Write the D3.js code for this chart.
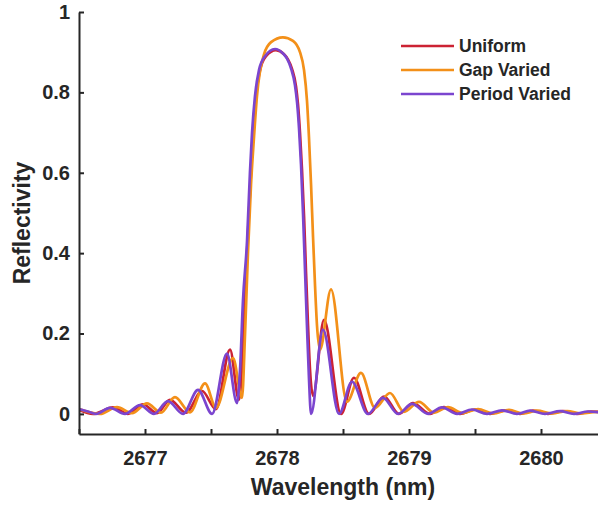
<!DOCTYPE html>
<html lang="en">
<head>
    <meta charset="UTF-8">
    <title>Reflectivity spectrum</title>
    <script src="https://d3js.org/d3.v7.min.js"></script>
    <style>
        body { margin: 0; background: #fff; }
        text { font-family: "Liberation Sans", Arial, sans-serif; font-weight: bold; fill: #262626; }
        .axis path, .axis line { stroke: #262626; stroke-width: 2px; }
        .series { fill: none; stroke-width: 2.7px; stroke-linejoin: round; }
    </style>
</head>
<body>
    <svg width="598" height="505"></svg>

    <script>
        // [wavelength (nm), reflectivity]
        const uniform = [
            [2676.500, 0.010], [2676.606, 0.000], [2676.758, 0.016], [2676.871, 0.000],
            [2676.985, 0.024], [2677.091, 0.002], [2677.189, 0.035], [2677.311, 0.003],
            [2677.432, 0.057], [2677.538, 0.012], [2677.644, 0.160], [2677.712, 0.035],
            [2677.735, 0.120], [2677.758, 0.300], [2677.780, 0.450], [2677.803, 0.600],
            [2677.818, 0.700], [2677.841, 0.790], [2677.871, 0.855], [2677.917, 0.890],
            [2677.992, 0.905], [2678.053, 0.895], [2678.083, 0.882], [2678.114, 0.858],
            [2678.144, 0.815], [2678.159, 0.770], [2678.174, 0.700], [2678.189, 0.610],
            [2678.205, 0.490], [2678.220, 0.350], [2678.235, 0.220], [2678.250, 0.110],
            [2678.273, 0.045], [2678.356, 0.234],
            [2678.485, 0.000], [2678.583, 0.090], [2678.697, 0.000], [2678.811, 0.043],
            [2678.924, 0.000], [2679.030, 0.027], [2679.159, 0.000], [2679.265, 0.017],
            [2679.386, 0.000], [2679.500, 0.011], [2679.614, 0.000], [2679.727, 0.009],
            [2679.841, 0.000], [2679.939, 0.008], [2680.053, 0.000], [2680.167, 0.007],
            [2680.273, 0.000], [2680.379, 0.006], [2680.500, 0.002]
        ];

        const gapVaried = [
            [2676.500, 0.012], [2676.659, 0.000], [2676.788, 0.017], [2676.902, 0.002],
            [2677.015, 0.026], [2677.121, 0.003], [2677.227, 0.042], [2677.341, 0.004],
            [2677.455, 0.076], [2677.538, 0.015], [2677.667, 0.139], [2677.735, 0.040],
            [2677.758, 0.200], [2677.780, 0.400], [2677.803, 0.570], [2677.826, 0.690],
            [2677.848, 0.790], [2677.902, 0.895], [2677.955, 0.925], [2678.045, 0.937],
            [2678.121, 0.928], [2678.174, 0.900], [2678.205, 0.855], [2678.227, 0.780],
            [2678.242, 0.690], [2678.258, 0.570], [2678.273, 0.440], [2678.288, 0.320],
            [2678.303, 0.220], [2678.326, 0.160], [2678.409, 0.310], [2678.530, 0.030],
            [2678.636, 0.102], [2678.742, 0.015], [2678.856, 0.052], [2678.962, 0.005],
            [2679.076, 0.030], [2679.189, 0.003], [2679.295, 0.017], [2679.409, 0.002],
            [2679.523, 0.012], [2679.636, 0.001], [2679.758, 0.010], [2679.864, 0.001],
            [2679.970, 0.008], [2680.083, 0.001], [2680.197, 0.007], [2680.311, 0.001],
            [2680.417, 0.005], [2680.500, 0.003]
        ];

        const periodVaried = [
            [2676.500, 0.012], [2676.568, 0.006], [2676.629, 0.000], [2676.735, 0.015],
            [2676.848, 0.000], [2676.962, 0.022], [2677.068, 0.000], [2677.174, 0.032],
            [2677.288, 0.000], [2677.402, 0.060], [2677.508, 0.000], [2677.621, 0.150],
            [2677.697, 0.027], [2677.720, 0.110], [2677.742, 0.280], [2677.773, 0.430],
            [2677.795, 0.600], [2677.811, 0.700], [2677.833, 0.790], [2677.864, 0.856],
            [2677.909, 0.890], [2677.985, 0.908], [2678.045, 0.897], [2678.076, 0.884],
            [2678.106, 0.860], [2678.136, 0.818], [2678.152, 0.775], [2678.167, 0.710],
            [2678.182, 0.620], [2678.197, 0.500], [2678.212, 0.360], [2678.227, 0.220],
            [2678.242, 0.090], [2678.258, 0.000],
            [2678.348, 0.210], [2678.470, 0.000], [2678.568, 0.080], [2678.689, 0.000],
            [2678.803, 0.040], [2678.917, 0.000], [2679.023, 0.025], [2679.144, 0.000],
            [2679.250, 0.016], [2679.364, 0.000], [2679.477, 0.011], [2679.591, 0.000],
            [2679.705, 0.009], [2679.818, 0.000], [2679.917, 0.008], [2680.030, 0.000],
            [2680.144, 0.007], [2680.250, 0.000], [2680.356, 0.006], [2680.500, 0.001]
        ];

        const seriesNames = ["Uniform", "Gap Varied", "Period Varied"];
        const seriesColors = ["#cc2233", "#f39019", "#7b45cf"];
        const seriesData = [uniform, gapVaried, periodVaried];

        const xTicks = [2676.5, 2677, 2677.5, 2678, 2678.5, 2679, 2679.5, 2680, 2680.5];
        const yTicks = [0, 0.2, 0.4, 0.6, 0.8, 1];

        const svg = d3.select("svg");
        const plotLeft = 79, plotRight = 607, plotTop = 12, plotBottom = 434;

        const x = d3.scaleLinear().domain([2676.5, 2680.5]).range([plotLeft, plotRight]);
        const y = d3.scaleLinear().domain([-0.05, 1]).range([plotBottom, plotTop]);

        svg.append("defs").append("clipPath").attr("id", "plot")
            .append("rect")
            .attr("x", plotLeft).attr("y", plotTop)
            .attr("width", plotRight - plotLeft).attr("height", plotBottom - plotTop);

        const line = d3.line()
            .x(d => x(d[0]))
            .y(d => y(d[1]))
            .curve(d3.curveMonotoneX);

        svg.append("g")
            .attr("clip-path", "url(#plot)")
            .selectAll("path")
            .data(seriesData)
            .enter().append("path")
            .attr("class", "series")
            .attr("stroke", (d, i) => seriesColors[i])
            .attr("d", line);

        // axes, ticks pointing inward
        svg.append("g")
            .attr("class", "axis")
            .attr("transform", `translate(0,${plotBottom})`)
            .call(d3.axisBottom(x)
                .tickValues(xTicks)
                .tickSizeInner(-5)
                .tickSizeOuter(0)
                .tickPadding(17)
                .tickFormat(d => Number.isInteger(d) ? d : ""));

        svg.append("g")
            .attr("class", "axis")
            .attr("transform", `translate(${plotLeft},0)`)
            .call(d3.axisLeft(y)
                .tickValues(yTicks)
                .tickSizeInner(-5)
                .tickSizeOuter(0)
                .tickPadding(9)
                .tickFormat(d => d === 0 || d === 1 ? d : d3.format(".1f")(d)));

        svg.selectAll(".axis text").style("font-size", "20px");

        svg.append("text")
            .attr("x", (plotLeft + plotRight) / 2)
            .attr("y", 495)
            .attr("text-anchor", "middle")
            .style("font-size", "23px")
            .text("Wavelength (nm)");

        svg.append("text")
            .attr("transform", `translate(22,${(plotTop + plotBottom) / 2}) rotate(-90)`)
            .attr("text-anchor", "middle")
            .attr("dominant-baseline", "central")
            .style("font-size", "23px")
            .text("Reflectivity");

        // legend
        const legend = svg.append("g").attr("transform", "translate(401,46)");
        seriesNames.forEach((name, i) => {
            const row = legend.append("g").attr("transform", `translate(0,${i * 24})`);
            row.append("line")
                .attr("x1", 0).attr("x2", 53)
                .attr("stroke", seriesColors[i])
                .attr("stroke-width", 2.7);
            row.append("text")
                .attr("x", 58)
                .attr("dy", "0.35em")
                .style("font-size", "17.5px")
                .text(name);
        });
    </script>
</body>
</html>
